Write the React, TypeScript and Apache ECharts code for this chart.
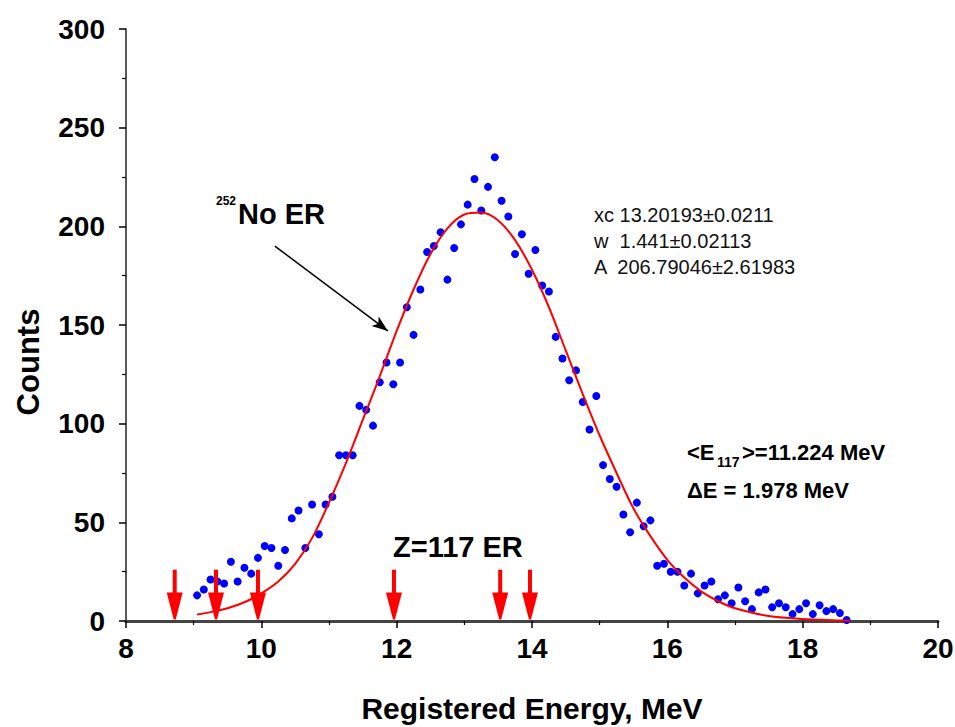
import React, { useEffect, useRef } from "react";
import * as echarts from "echarts";

// Measured counts per 0.1 MeV bin
const energy = [
  9.05, 9.15, 9.25, 9.35, 9.45, 9.55, 9.65, 9.75, 9.85, 9.95,
  10.05, 10.15, 10.25, 10.35, 10.45, 10.55, 10.65, 10.75, 10.85, 10.95,
  11.05, 11.15, 11.25, 11.35, 11.45, 11.55, 11.65, 11.75, 11.85, 11.95,
  12.05, 12.15, 12.25, 12.35, 12.45, 12.55, 12.65, 12.75, 12.85, 12.95,
  13.05, 13.15, 13.25, 13.35, 13.45, 13.55, 13.65, 13.75, 13.85, 13.95,
  14.05, 14.15, 14.25, 14.35, 14.45, 14.55, 14.65, 14.75, 14.85, 14.95,
  15.05, 15.15, 15.25, 15.35, 15.45, 15.55, 15.65, 15.75, 15.85, 15.95,
  16.05, 16.15, 16.25, 16.35, 16.45, 16.55, 16.65, 16.75, 16.85, 16.95,
  17.05, 17.15, 17.25, 17.35, 17.45, 17.55, 17.65, 17.75, 17.85, 17.95,
  18.05, 18.15, 18.25, 18.35, 18.45, 18.55, 18.65,
];
const counts = [
  13, 16, 21, 20, 19, 30, 20, 27, 24, 32,
  38, 37, 28, 36, 52, 56, 37, 59, 44, 59,
  63, 84, 84, 84, 109, 107, 99, 121, 131, 120,
  131, 159, 145, 168, 187, 190, 197, 173, 189, 201,
  211, 224, 208, 220, 235, 213, 205, 186, 196, 176,
  188, 170, 167, 144, 133, 122, 127, 111, 97, 114,
  79, 72, 68, 54, 45, 60, 48, 51, 28, 29,
  25, 25, 18, 24, 14, 18, 20, 11, 13, 9,
  17, 10, 6, 14.5, 16, 7, 9, 7, 3.5, 6,
  9, 3.5, 8, 5, 6, 4, 0.5,
];

// Fitted curve
const fitEnergy = [
  9.05, 9.25, 9.5, 9.75, 10.0, 10.25, 10.5, 10.75, 11.0, 11.25, 11.5, 11.75,
  12.0, 12.25, 12.5, 12.75, 13.0, 13.25, 13.5, 13.75, 14.0, 14.25, 14.5,
  14.75, 15.0, 15.25, 15.5, 15.75, 16.0, 16.25, 16.5, 16.75, 17.0, 17.5,
  18.0, 18.5, 18.7,
];
const fitCounts = [
  3.3, 4.5, 6.5, 9.5, 14, 20, 29, 42, 60, 80, 102, 124,
  147, 168, 186, 199, 206, 207, 203, 193, 178, 159, 137,
  115, 94, 75, 57, 43, 31, 22, 15, 10, 6.5, 2.5,
  1, 0.3, 0.1,
];

// Energies of the Z=117 events (red arrows)
const arrowEnergy = [8.72, 9.33, 9.95, 11.96, 13.53, 13.97];
const ARROW_TOP = 26;
const ARROW_TIP = 0.8;

// Arrow pointing at the 252No ER curve
const pointerFrom = [10.2, 190];
const pointerTo = [11.87, 147];

const fitParams = ["xc 13.20193\u00b10.0211", "w  1.441\u00b10.02113", "A  206.79046\u00b12.61983"];

const FONT = "'Liberation Sans', Arial, Helvetica, sans-serif";

export default function App() {
  const ref = useRef<HTMLDivElement>(null);

  useEffect(() => {
    if (!ref.current) return;
    const chart = echarts.init(ref.current, undefined, { renderer: "svg" });

    const option: any = {
      animation: false,
      backgroundColor: "#ffffff",
      grid: { left: 126, right: 17, top: 29, bottom: 106, containLabel: false, outerBoundsMode: "none" },
      xAxis: {
        type: "value",
        min: 8,
        max: 20,
        interval: 2,
        name: "Registered Energy, MeV",
        nameLocation: "middle",
        nameGap: 72,
        nameTextStyle: { fontSize: 30, fontWeight: "bold", color: "#000", fontFamily: FONT },
        axisLine: { show: true, onZero: false, lineStyle: { color: "#444", width: 3 } },
        axisTick: { show: true, inside: false, length: 7, lineStyle: { color: "#000", width: 1.5 } },
        minorTick: { show: true, splitNumber: 2, length: 4, lineStyle: { color: "#000", width: 1.2 } },
        splitLine: { show: false },
        axisLabel: { fontSize: 28, fontWeight: "bold", color: "#000", margin: 13, fontFamily: FONT },
      },
      yAxis: {
        type: "value",
        min: 0,
        max: 300,
        interval: 50,
        axisLine: { show: true, onZero: false, lineStyle: { color: "#222", width: 1.5 } },
        axisTick: { show: true, inside: false, length: 7, lineStyle: { color: "#000", width: 1.5 } },
        minorTick: { show: true, splitNumber: 2, length: 4, lineStyle: { color: "#000", width: 1.2 } },
        splitLine: { show: false },
        axisLabel: { fontSize: 28, fontWeight: "bold", color: "#000", margin: 21, fontFamily: FONT },
      },
      series: [
        {
          type: "scatter",
          data: energy.map((e, i) => [e, counts[i]]),
          symbol: "circle",
          symbolSize: 8,
          itemStyle: { color: "#0000ff", opacity: 1 },
          z: 3,
        },
        {
          type: "line",
          data: fitEnergy.map((e, i) => [e, fitCounts[i]]),
          smooth: 0.3,
          showSymbol: false,
          symbol: "none",
          lineStyle: { color: "#ff0000", width: 2 },
          z: 4,
          markLine: {
            silent: true,
            symbol: ["none", "arrow"],
            symbolSize: [9, 16],
            label: { show: false },
            lineStyle: { color: "#000", width: 1.5, type: "solid" },
            data: [[{ coord: pointerFrom }, { coord: pointerTo }]],
          },
        },
        {
          type: "custom",
          data: arrowEnergy.map((e) => [e, ARROW_TIP]),
          clip: false,
          z: 5,
          renderItem: (params: any, api: any) => {
            const x = api.value(0);
            const top = api.coord([x, ARROW_TOP]);
            const tip = api.coord([x, ARROW_TIP]);
            const headLen = 27;
            const headHalf = 8;
            return {
              type: "group",
              children: [
                {
                  type: "rect",
                  shape: { x: top[0] - 2, y: top[1], width: 4, height: tip[1] - headLen - top[1] + 2 },
                  style: { fill: "#ff0000" },
                },
                {
                  type: "polygon",
                  shape: {
                    points: [
                      [tip[0] - headHalf, tip[1] - headLen],
                      [tip[0] + headHalf, tip[1] - headLen],
                      [tip[0] + 1, tip[1]],
                      [tip[0] - 1, tip[1]],
                    ],
                  },
                  style: { fill: "#ff0000" },
                },
              ],
            };
          },
        },
      ],
      graphic: [
        {
          type: "text",
          x: 28,
          y: 362,
          rotation: Math.PI / 2,
          style: { text: "Counts", fill: "#000", font: `bold 31px ${FONT}`, align: "center", verticalAlign: "middle" },
        },
        { type: "text", x: 216, y: 195, style: { text: "252", fill: "#000", font: `bold 12px ${FONT}` } },
        { type: "text", x: 238, y: 199, style: { text: "No ER", fill: "#000", font: `bold 29px ${FONT}` } },
        { type: "text", x: 393, y: 532, style: { text: "Z=117 ER", fill: "#000", font: `bold 29px ${FONT}` } },
        ...fitParams.map((t, i) => ({
          type: "text",
          x: 594,
          y: 205 + i * 26,
          style: { text: t, fill: "#111", font: `20px ${FONT}` },
        })),
        { type: "text", x: 687, y: 441, style: { text: "<E", fill: "#000", font: `bold 22px ${FONT}` } },
        { type: "text", x: 717, y: 455, style: { text: "117", fill: "#000", font: `bold 14px ${FONT}` } },
        { type: "text", x: 742, y: 441, style: { text: ">=11.224 MeV", fill: "#000", font: `bold 22px ${FONT}` } },
        { type: "text", x: 687, y: 479, style: { text: "\u0394E = 1.978 MeV", fill: "#000", font: `bold 22px ${FONT}` } },
      ],
    };

    chart.setOption(option);
    return () => chart.dispose();
  }, []);

  return (
    <div
      ref={ref}
      style={{ position: "absolute", left: 0, top: 0, width: 955, height: 727, overflow: "hidden" }}
    />
  );
}
